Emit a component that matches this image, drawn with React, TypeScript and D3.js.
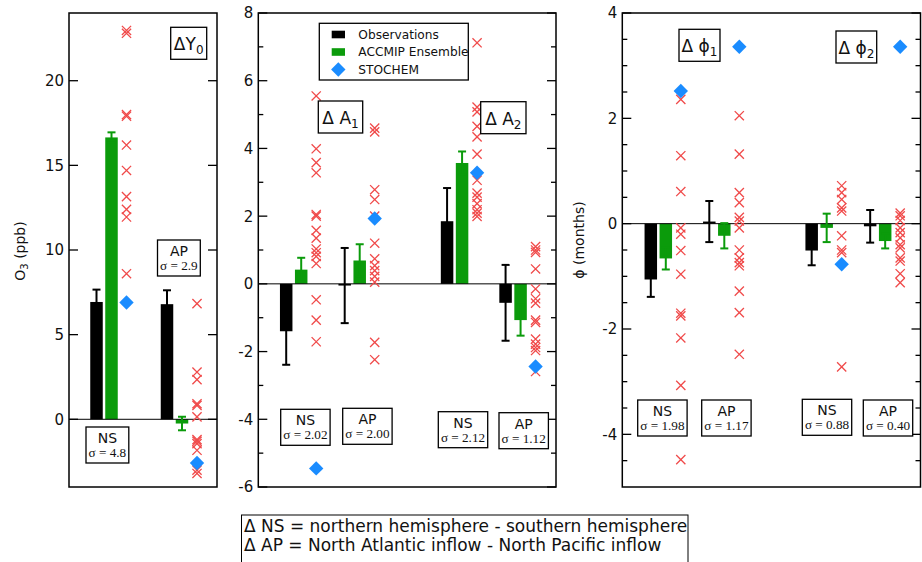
import React from "react";
import * as d3 from "d3";

// ---------- DATA ----------
const groupNames = ["NS", "AP"];

// Panel 1: ΔY0 (ppb)
const y0Obs = [6.93, 6.8];
const y0ObsErr = [0.73, 0.82];
const y0Ens = [16.65, -0.25];
const y0EnsErr = [0.3, 0.4];
const y0Stochem = [6.9, -2.58];
const y0ModelsNS = [22.97, 22.8, 18.0, 17.9, 16.2, 14.7, 13.15, 12.4, 11.95, 8.6];
const y0ModelsAP = [6.83, 2.79, 2.34, 0.92, 0.82, 0.14, -1.2, -1.3, -1.44, -1.83, -3.0, -3.2];
const y0Sigma = ["4.8", "2.9"];
const y0Ticks = [0, 5, 10, 15, 20];

// Panel 2: ΔA1, ΔA2 (groups: A1 NS, A1 AP, A2 NS, A2 AP)
const aObs = [-1.4, -0.05, 1.85, -0.56];
const aObsErr = [0.99, 1.11, 0.98, 1.12];
const aEns = [0.42, 0.69, 3.57, -1.07];
const aEnsErr = [0.35, 0.48, 0.34, 0.46];
const aStochem = [-5.45, 1.93, 3.28, -2.44];
const a1ModelsNS = [5.55, 3.99, 3.58, 3.28, 2.05, 2.0, 1.58, 1.35, 1.03, 0.92, 0.81, 0.6, -0.47, -1.07, -1.71];
const a1ModelsAP = [4.6, 4.49, 2.78, 2.49, 2.0, 1.2, 0.74, 0.54, 0.39, 0.22, 0.05, -1.73, -2.24];
const a2ModelsNS = [7.12, 5.22, 5.08, 4.65, 4.34, 3.83, 3.06, 2.68, 2.56, 2.37, 2.19, 2.09, 1.99];
const a2ModelsAP = [1.1, 1.0, 0.93, 0.44, -0.15, -0.44, -0.57, -1.07, -1.14, -1.63, -1.78, -1.88, -1.97, -2.59];
const aSigma = ["2.02", "2.00", "2.12", "1.12"];
const aTicks = [-6, -4, -2, 0, 2, 4, 6, 8];
const aMinor = [-5, -3, -1, 1, 3, 5, 7];

// Panel 3: Δφ1, Δφ2 (months)
const pObs = [-1.06, 0.04, -0.51, -0.05];
const pObsErr = [0.33, 0.39, 0.28, 0.31];
const pEns = [-0.66, -0.23, -0.08, -0.33];
const pEnsErr = [0.21, 0.24, 0.27, 0.14];
const pStochem = [2.52, 3.36, -0.77, 3.36];
const p1ModelsNS = [2.36, 1.29, 0.61, -0.08, -0.2, -0.51, -0.96, -1.7, -1.75, -2.17, -3.07, -4.48];
const p1ModelsAP = [2.05, 1.32, 0.59, 0.4, 0.12, 0.05, -0.08, -0.5, -0.65, -0.74, -0.8, -1.28, -1.69, -2.48];
const p2ModelsNS = [0.72, 0.59, 0.46, 0.3, 0.24, -0.23, -0.5, -0.55, -2.72];
const p2ModelsAP = [0.2, 0.15, 0.06, -0.08, -0.17, -0.27, -0.4, -0.46, -0.65, -0.71, -0.95, -1.12];
const pSigma = ["1.98", "1.17", "0.88", "0.40"];
const pTicks = [-4, -2, 0, 2, 4];
const pMinor = [-4.5, -3.5, -3, -2.5, -1.5, -1, -0.5, 0.5, 1, 1.5, 2.5, 3, 3.5];

const legendItems = ["Observations", "ACCMIP Ensemble", "STOCHEM"];
const footnoteLines = [
  "\u0394 NS = northern hemisphere - southern hemisphere",
  "\u0394 AP = North Atlantic inflow - North Pacific inflow",
];

// ---------- STYLE ----------
const OBS = "#000000";
const ENS = "#0b9b0b";
const STO = "#1a8cff";
const MOD = "#f04a4a";
const SANS = "'DejaVu Sans', Verdana, sans-serif";
const SERIF = "'Liberation Serif', 'Times New Roman', serif";
const PHI = "\u03d5";

type Panel = {
  x0: number; x1: number; y0: number; y1: number;
  domain: [number, number];
  ticks: number[]; minor: number[];
  slots: number[];
  slotRange: [number, number];
  obs: number[]; obsErr: number[]; ens: number[]; ensErr: number[];
  stochem: number[]; models: number[][];
  groupLabel: string[]; sigma: string[];
  sigmaBoxes: { x: number; y: number }[];
  titles: { x: number; y: number; w: number; main: string; sub: string }[];
};

const panels: Panel[] = [
  {
    x0: 69, x1: 217, y0: 13, y1: 487, domain: [-4, 24],
    ticks: y0Ticks, minor: [],
    slots: [0, 1], slotRange: [96.5, 167],
    obs: y0Obs, obsErr: y0ObsErr, ens: y0Ens, ensErr: y0EnsErr,
    stochem: y0Stochem, models: [y0ModelsNS, y0ModelsAP],
    groupLabel: groupNames, sigma: y0Sigma,
    sigmaBoxes: [{ x: 86, y: 427 }, { x: 157.5, y: 240 }],
    titles: [{ x: 170.7, y: 27.3, w: 36, main: "\u0394Y", sub: "0" }],
  },
  {
    x0: 258.3, x1: 556, y0: 13, y1: 487, domain: [-6, 8],
    ticks: aTicks, minor: aMinor,
    slots: [0, 1, 2.75, 3.75], slotRange: [286.2, 344.7],
    obs: aObs, obsErr: aObsErr, ens: aEns, ensErr: aEnsErr,
    stochem: aStochem, models: [a1ModelsNS, a1ModelsAP, a2ModelsNS, a2ModelsAP],
    groupLabel: ["NS", "AP", "NS", "AP"], sigma: aSigma,
    sigmaBoxes: [{ x: 280.7, y: 409.3 }, { x: 342.7, y: 408.3 }, { x: 438.3, y: 411.7 }, { x: 499, y: 412.7 }],
    titles: [
      { x: 318.3, y: 101, w: 44.4, main: "\u0394 A", sub: "1" },
      { x: 480.7, y: 101.7, w: 45.3, main: "\u0394 A", sub: "2" },
    ],
  },
  {
    x0: 622.3, x1: 920.5, y0: 13, y1: 487, domain: [-5, 4],
    ticks: pTicks, minor: pMinor,
    slots: [0, 1, 2.75, 3.75], slotRange: [650.8, 709.3],
    obs: pObs, obsErr: pObsErr, ens: pEns, ensErr: pEnsErr,
    stochem: pStochem, models: [p1ModelsNS, p1ModelsAP, p2ModelsNS, p2ModelsAP],
    groupLabel: ["NS", "AP", "NS", "AP"], sigma: pSigma,
    sigmaBoxes: [{ x: 637.7, y: 400 }, { x: 701.7, y: 400 }, { x: 802.3, y: 399.3 }, { x: 863.3, y: 400 }],
    titles: [
      { x: 679, y: 29.3, w: 41, main: "\u0394 " + PHI, sub: "1" },
      { x: 836, y: 31, w: 40.7, main: "\u0394 " + PHI, sub: "2" },
    ],
  },
];

const BAR_W = 12.5;
const ENS_OFF = 15;
const MOD_OFF = 30;

function Cross({ x, y }: { x: number; y: number }) {
  const s = 4.6;
  return (
    <path d={`M${x - s},${y - s}L${x + s},${y + s}M${x - s},${y + s}L${x + s},${y - s}`}
      stroke={MOD} strokeWidth={1.3} fill="none" />
  );
}

function Diamond({ x, y }: { x: number; y: number }) {
  const s = 7.2;
  return <path d={`M${x},${y - s}L${x + s},${y}L${x},${y + s}L${x - s},${y}Z`} fill={STO} />;
}

function ErrBar({ x, y0, y1, color }: { x: number; y0: number; y1: number; color: string }) {
  const c = 4;
  return (
    <g stroke={color} strokeWidth={2}>
      <line x1={x} x2={x} y1={y0} y2={y1} />
      <line x1={x - c} x2={x + c} y1={y0} y2={y0} />
      <line x1={x - c} x2={x + c} y1={y1} y2={y1} />
    </g>
  );
}

function PanelView({ p, idx }: { p: Panel; idx: number }) {
  const y = d3.scaleLinear().domain(p.domain).range([p.y1, p.y0]);
  const gx = d3.scaleLinear().domain([0, 1]).range(p.slotRange);
  const zero = y(0);
  const bw = idx === 0 ? 42.8 : 49.4;
  return (
    <g>
      {p.obs.map((v, i) => {
        const cx = gx(p.slots[i]);
        return (
          <rect key={"o" + i} x={cx - BAR_W / 2} width={BAR_W}
            y={Math.min(y(v), zero)} height={Math.abs(y(v) - zero)} fill={OBS} />
        );
      })}
      {p.ens.map((v, i) => {
        const cx = gx(p.slots[i]) + ENS_OFF;
        return (
          <rect key={"e" + i} x={cx - BAR_W / 2} width={BAR_W}
            y={Math.min(y(v), zero)} height={Math.abs(y(v) - zero)} fill={ENS} />
        );
      })}
      <line x1={p.x0} x2={p.x1} y1={zero} y2={zero} stroke="#000" strokeWidth={1} />
      {p.obs.map((v, i) => (
        <ErrBar key={"oe" + i} x={gx(p.slots[i])} y0={y(v - p.obsErr[i])} y1={y(v + p.obsErr[i])} color={OBS} />
      ))}
      {p.ens.map((v, i) => (
        <ErrBar key={"ee" + i} x={gx(p.slots[i]) + ENS_OFF} y0={y(v - p.ensErr[i])} y1={y(v + p.ensErr[i])} color={ENS} />
      ))}
      {p.models.map((arr, i) =>
        arr.map((v, j) => <Cross key={"m" + i + "_" + j} x={gx(p.slots[i]) + MOD_OFF} y={y(v)} />)
      )}
      {p.stochem.map((v, i) => <Diamond key={"s" + i} x={gx(p.slots[i]) + MOD_OFF} y={y(v)} />)}
      <rect x={p.x0} y={p.y0} width={p.x1 - p.x0} height={p.y1 - p.y0} fill="none" stroke="#000" strokeWidth={1.5} />
      {p.ticks.map((t) => (
        <g key={"t" + t}>
          <line x1={p.x0} x2={p.x0 + 9} y1={y(t)} y2={y(t)} stroke="#000" strokeWidth={1.3} />
          <line x1={p.x1 - 9} x2={p.x1} y1={y(t)} y2={y(t)} stroke="#000" strokeWidth={1.3} />
          <text x={p.x0 - 5} y={y(t)} dy="0.36em" textAnchor="end" fontFamily={SANS} fontSize={15} fill="#111">
            {t}
          </text>
        </g>
      ))}
      {p.minor.map((t) => (
        <g key={"mt" + t}>
          <line x1={p.x0} x2={p.x0 + 5} y1={y(t)} y2={y(t)} stroke="#000" strokeWidth={1.3} />
          <line x1={p.x1 - 5} x2={p.x1} y1={y(t)} y2={y(t)} stroke="#000" strokeWidth={1.3} />
        </g>
      ))}
      {p.titles.map((t, i) => (
        <g key={"ti" + i}>
          <rect x={t.x} y={t.y} width={t.w} height={32} fill="#fff" stroke="#000" strokeWidth={1.3} />
          <text x={t.x + t.w / 2} y={t.y + 23} textAnchor="middle" fontFamily={SANS} fontSize={17} fill="#111">
            {t.main}
            <tspan fontSize={12} dy={4}>{t.sub}</tspan>
          </text>
        </g>
      ))}
      {p.sigmaBoxes.map((b, i) => (
        <g key={"sb" + i}>
          <rect x={b.x} y={b.y} width={bw} height={36} fill="#fff" stroke="#000" strokeWidth={1.3} />
          <text x={b.x + bw / 2} y={b.y + 16} textAnchor="middle" fontFamily={SANS} fontSize={14} fill="#111">
            {p.groupLabel[i]}
          </text>
          <text x={b.x + bw / 2} y={b.y + 30} textAnchor="middle" fontFamily={SERIF} fontSize={13.2} fill="#111">
            {"\u03c3 = " + p.sigma[i]}
          </text>
        </g>
      ))}
    </g>
  );
}

export default function App() {
  return (
    <svg width={922} height={562} style={{ position: "absolute", left: 0, top: 0, background: "#fff" }}>
      <rect x={0} y={0} width={922} height={562} fill="#fff" />
      {panels.map((p, i) => <PanelView key={i} p={p} idx={i} />)}

      <text transform="translate(25,251) rotate(-90)" textAnchor="middle" fontFamily={SANS} fontSize={14} fill="#111">
        O<tspan fontSize={10} dy={3}>3</tspan><tspan dy={-3}> (ppb)</tspan>
      </text>
      <text transform="translate(584,240) rotate(-90)" textAnchor="middle" fontFamily={SANS} fontSize={14} fill="#111">
        {PHI + " (months)"}
      </text>

      <g>
        <rect x={319.3} y={23.3} width={149} height={56.7} fill="#fff" stroke="#000" strokeWidth={1.3} />
        {legendItems.map((name, i) => {
          const cy = 34.5 + i * 17.5;
          return (
            <g key={name}>
              {i < 2 ? (
                <rect x={331.7} y={cy - 3.8} width={13.3} height={7.6} fill={i === 0 ? OBS : ENS} />
              ) : (
                <Diamond x={338.3} y={cy} />
              )}
              <text x={358.3} y={cy} dy="0.36em" fontFamily={SANS} fontSize={12.2} fill="#111">{name}</text>
            </g>
          );
        })}
      </g>

      <rect x={241.5} y={515} width={446.5} height={52} fill="#fff" stroke="#000" strokeWidth={1} />
      {footnoteLines.map((l, i) => (
        <text key={i} x={244} y={532 + i * 19} fontFamily={SANS} fontSize={17} fill="#111">{l}</text>
      ))}
    </svg>
  );
}
